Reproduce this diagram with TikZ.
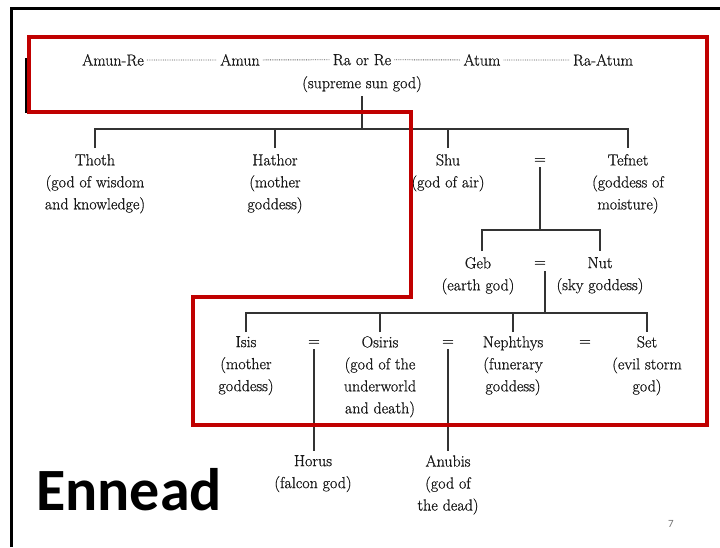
\documentclass[tikz,border=0pt]{standalone}
\usepackage{fontspec}
\newfontfamily\slidefont{Carlito}
\newfontfamily\godfont{Latin Modern Roman}[FakeBold=0.8]
\usetikzlibrary{positioning}
\definecolor{framered}{RGB}{192,0,0}

\begin{document}
\begin{tikzpicture}[x=1pt,y=-1pt,
        god/.style={align=center, inner sep=0pt, anchor=north, text=black!90,
            font=\godfont\fontsize{16}{22}\selectfont},
        eq/.style={inner sep=0pt, text=black!90, font=\godfont\fontsize{16}{22}\selectfont},
        link/.style={draw=black!80, line width=1.5pt},
        dots/.style={draw=black!65, densely dotted, line width=0.8pt, shorten >=3pt, shorten <=3pt},
        frame/.style={draw=framered, line width=3.5pt}]
    \useasboundingbox (0,0) rectangle (720,547);
    \draw[line width=3pt] (11,547) -- (11,8) -- (720,8);

    \node[god](amunre) at (113,54)  {Amun-Re};
    \node[god](amun)   at (240,54)  {Amun};
    \node[god](ra)     at (362,54)  {Ra or Re};
    \node[god](atum)   at (482,54)  {Atum};
    \node[god](raatum) at (603,54)  {Ra-Atum};
    \node[god](sungod) at (362,76)  {(supreme sun god)};

    \node[god](thoth)  at (95,154)  {Thoth\\(god of wisdom\\and knowledge)};
    \node[god](hathor) at (275,154) {Hathor\\(mother\\goddess)};
    \node[god](shu)    at (448,154) {Shu\\(god of air)};
    \node[eq](eqst)    at (540,161) {=};
    \node[god](tefnet) at (628,154) {Tefnet\\(goddess of\\moisture)};

    \node[god](geb)    at (478,257) {Geb\\(earth god)};
    \node[eq](eqgn)    at (540,264) {=};
    \node[god](nut)    at (600,257) {Nut\\(sky goddess)};

    \node[god](isis)     at (246,336) {Isis\\(mother\\goddess)};
    \node[eq](eqio)      at (314,343) {=};
    \node[god](osiris)   at (380,336) {Osiris\\(god of the\\underworld\\and death)};
    \node[eq](eqon)      at (448,343) {=};
    \node[god](nephthys) at (513,336) {Nephthys\\(funerary\\goddess)};
    \node[eq](eqns)      at (585,343) {=};
    \node[god](seth)     at (647,336) {Set\\(evil storm\\god)};

    \node[god](horus)  at (313,455) {Horus\\(falcon god)};
    \node[god](anubis) at (448,455) {Anubis\\(god of\\the dead)};

    \node[anchor=base west, inner sep=0pt, font=\slidefont\bfseries\fontsize{60}{62}\selectfont](title) at (36,510) {Ennead};
    \node[inner sep=0pt, text=black!55, font=\slidefont\fontsize{11}{12}\selectfont](page) at (671,524) {7};

    \draw[dots] (amunre) -- (amun);
    \draw[dots] (amun) -- (ra);
    \draw[dots] (ra) -- (atum);
    \draw[dots] (atum) -- (raatum);

    \coordinate (bar1) at (362,129);
    \coordinate (bar2) at (540,230);
    \coordinate (bar3) at (545,313);
    \draw[link] ([yshift=-4pt]sungod.south) -- (sungod.south |- bar1);
    \draw[link] ([yshift=6pt]thoth.north) |- (bar1) -| ([yshift=6pt]tefnet.north);
    \draw[link] ([yshift=6pt]hathor.north) -- (hathor.north |- bar1);
    \draw[link] ([yshift=6pt]shu.north) -- (shu.north |- bar1);

    \draw[link] ([yshift=-3pt]eqst.south) -- (bar2);
    \draw[link] ([xshift=4pt,yshift=6pt]geb.north) |- (bar2) -| ([yshift=6pt]nut.north);

    \draw[link] ([xshift=5pt,yshift=-4pt]eqgn.south) -- (bar3);
    \draw[link] ([yshift=4pt]isis.north) |- (bar3) -| ([yshift=4pt]seth.north);
    \draw[link] ([yshift=4pt]osiris.north) -- (osiris.north |- bar3);
    \draw[link] ([yshift=4pt]nephthys.north) -- (nephthys.north |- bar3);

    \draw[link] ([yshift=-3pt]eqio.south) -- ([yshift=4pt]eqio.south |- horus.north);
    \draw[link] ([yshift=-3pt]eqon.south) -- ([yshift=4pt]eqon.south |- anubis.north);

    \draw[line width=2.5pt] (26,58) -- (26,113);
    \draw[frame] (29,37) -- (707,37) -- (707,425) -- (193,425) -- (193,297)
        -- (411,297) -- (411,112) -- (29,112) -- cycle;
\end{tikzpicture}
\end{document}
